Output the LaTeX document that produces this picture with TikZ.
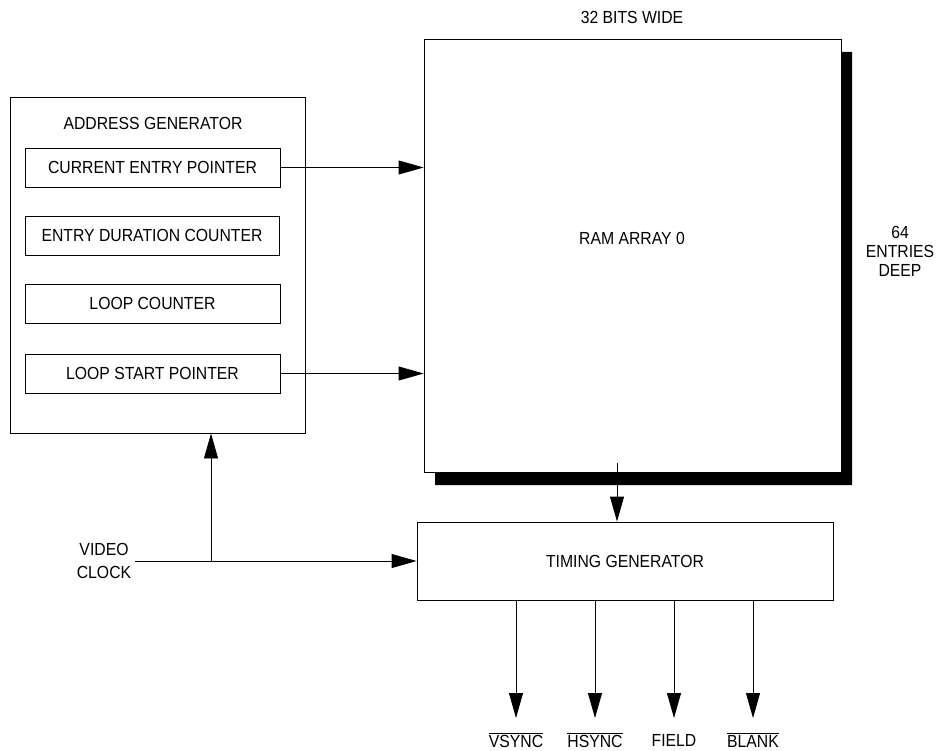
\documentclass[tikz,border=0pt]{standalone}
\usepackage{fontspec}
\setmainfont{Liberation Sans}[FakeStretch=0.9]
\usetikzlibrary{arrows.meta, positioning}

\begin{document}
\begin{tikzpicture}[x=1pt, y=-1pt, font=\fontsize{17.5}{19}\selectfont,
  blk/.style={draw, line width=0.9pt, inner sep=0pt},
  sig/.style={-{Triangle[length=25pt, width=14pt]}, line width=0.9pt}]
  \useasboundingbox (0,0) rectangle (944,751);
  % address generator
  \node[blk, minimum width=295pt, minimum height=336pt] (addr) at (157.5,265) {};
  \node (addrlbl) at (153,123) {ADDRESS GENERATOR};
  \node[blk, minimum width=255pt, minimum height=39pt] (cep) at (152.5,167.5) {CURRENT ENTRY POINTER};
  \node[blk, minimum width=254pt, minimum height=39pt] (edc) at (152,235.5) {ENTRY DURATION COUNTER};
  \node[blk, minimum width=255pt, minimum height=39pt] (lc) at (152.5,303.5) {LOOP COUNTER};
  \node[blk, minimum width=255pt, minimum height=39pt] (lsp) at (152.5,373.5) {LOOP START POINTER};
  % ram array with shadow
  \fill (841,52) -- (852,52) -- (852,485) -- (435,485) -- (435,472) -- (841,472) -- cycle;
  \node[blk, fill=white, minimum width=417pt, minimum height=433pt] (ram) at (632.5,255.5) {};
  \node (ramlbl) at (632,238) {RAM ARRAY 0};
  \node (width) at (632,17) {32 BITS WIDE};
  \node[align=center, font=\fontsize{17.5}{19}\selectfont] (depth) at (900,251) {64\\ENTRIES\\DEEP};
  % timing generator
  \node[blk, minimum width=416pt, minimum height=78pt] (timing) at (625,561) {TIMING GENERATOR};
  \node[align=center, font=\fontsize{17.5}{23}\selectfont] (vclk) at (104,561) {VIDEO\\CLOCK};
  \coordinate (ramout) at (617,463);
  \coordinate (tap) at (211,561);
  % connectors
  \draw[sig] (cep.east) -- (cep.east -| ram.west);
  \draw[sig] (lsp.east) -- (lsp.east -| ram.west);
  \draw[sig] (ramout) -- (ramout |- timing.north);
  \draw[line width=0.9pt] (vclk.east) -- (tap);
  \draw[sig] (tap) -- (vclk.east -| timing.west);
  \draw[sig] (tap) -- (tap |- addr.south);
  % outputs
  \node (vsync) at (516,740) {$\overline{\mbox{VSYNC}}$};
  \node (hsync) at (595,740) {$\overline{\mbox{HSYNC}}$};
  \node (field) at (674,740) {FIELD};
  \node (blank) at (753,740) {$\overline{\mbox{BLANK}}$};
  \foreach \s in {vsync, hsync, field, blank}
    \draw[sig] (\s |- timing.south) -- (\s |- 0,718);
\end{tikzpicture}
\end{document}
